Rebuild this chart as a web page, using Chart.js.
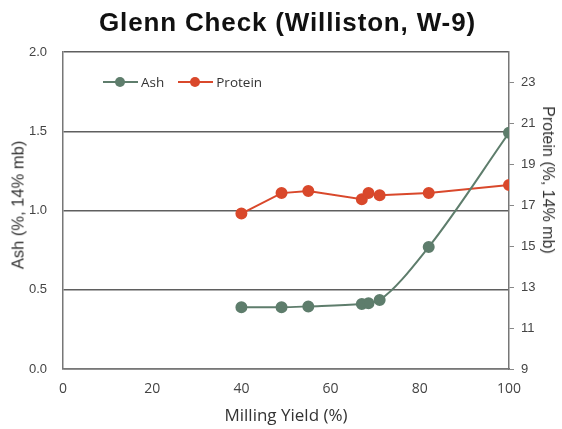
<!DOCTYPE html>
<html>
<head>
<meta charset="utf-8">
<script src="https://cdn.jsdelivr.net/npm/chart.js@4/dist/chart.umd.min.js"></script>
<style>
  html, body { margin: 0; padding: 0; background: #fff; }
  #wrap { position: relative; width: 562px; height: 429px; }
  #title { position: absolute; left: 99px; top: 9px; font: bold 26px/26px "Liberation Sans", Arial, sans-serif; letter-spacing: 0.85px; color: #111; white-space: nowrap; }
  .ax { position: absolute; white-space: nowrap; color: #333; }
  #ytitle { left: 18px; top: 205px; font: 16.5px/17px "Liberation Sans", Arial, sans-serif; transform: translate(-50%, -50%) rotate(-90deg); }
  #y2title { left: 548px; top: 180px; font: 16px/16px "Liberation Sans", Arial, sans-serif; transform: translate(-50%, -50%) rotate(90deg); }
  #xtitle { left: 286px; top: 406px; font: 17px/17px "Open Sans", sans-serif; transform: translateX(-50%); }
  #legend { position: absolute; left: 103px; top: 73px; font: 13.5px/18px "Open Sans", sans-serif; color: #333; display: flex; align-items: center; }
  .item { display: flex; align-items: center; }
  .mk { position: relative; width: 35px; height: 2px; margin-right: 3px; }
  .mk i { position: absolute; left: 12px; top: -4px; width: 10px; height: 10px; border-radius: 50%; }
</style>
</head>
<body>
<div id="wrap">
  <canvas id="c" width="562" height="429"></canvas>
  <div id="title"></div>
  <div id="ytitle" class="ax"></div>
  <div id="y2title" class="ax"></div>
  <div id="xtitle" class="ax"></div>
  <div id="legend"></div>
</div>
<script>
const titleText = "Glenn Check (Williston, W-9)";
const xTitle = "Milling Yield (%)";
const yTitle = "Ash (%, 14% mb)";
const y2Title = "Protein (%, 14% mb)";
const seriesNames = ["Ash", "Protein"];
const millingYield = [40, 49, 55, 67, 68.5, 71, 82, 100];
const ash = [0.39, 0.39, 0.395, 0.41, 0.415, 0.435, 0.77, 1.49];
const protein = [16.6, 17.6, 17.7, 17.3, 17.6, 17.5, 17.6, 18.0];
const xTicks = [0, 20, 40, 60, 80, 100];
const yLeftTicks = [0, 0.5, 1.0, 1.5, 2.0];
const yRightTicks = [9, 11, 13, 15, 17, 19, 21, 23];
const colors = ["#5e7d6c", "#d9482b"];

const fontFam = '"Liberation Sans", Arial, sans-serif';
const toPts = (xs, ys) => xs.map((x, i) => ({x: x, y: ys[i]}));

document.getElementById('title').textContent = titleText;
document.getElementById('xtitle').textContent = xTitle;
document.getElementById('ytitle').textContent = yTitle;
document.getElementById('y2title').textContent = y2Title;
const lg = document.getElementById('legend');
seriesNames.forEach((n, i) => {
  const it = document.createElement('div');
  it.className = 'item';
  it.style.marginRight = i === 0 ? '14px' : '0';
  it.innerHTML = '<span class="mk" style="background:' + colors[i] + '"><i style="background:' + colors[i] + '"></i></span><span>' + n + '</span>';
  lg.appendChild(it);
});

new Chart(document.getElementById('c'), {
  type: 'line',
  data: {
    datasets: [
      { label: seriesNames[0], data: toPts(millingYield, ash), yAxisID: 'y',
        borderColor: colors[0], backgroundColor: colors[0], borderWidth: 2,
        pointRadius: 5, pointHoverRadius: 5, cubicInterpolationMode: 'monotone' },
      { label: seriesNames[1], data: toPts(millingYield, protein), yAxisID: 'y2',
        borderColor: colors[1], backgroundColor: colors[1], borderWidth: 2,
        pointRadius: 5, pointHoverRadius: 5, tension: 0 }
    ]
  },
  options: {
    responsive: false,
    animation: false,
    layout: { padding: { top: 52 } },
    plugins: {
      legend: { display: false },
      tooltip: { enabled: false },
      title: { display: false }
    },
    scales: {
      x: {
        type: 'linear', min: 0, max: 100,
        afterBuildTicks: s => { s.ticks = xTicks.map(v => ({value: v})); },
        afterFit: s => { s.height = 60; },
        grid: { display: false, drawTicks: false },
        border: { color: '#777', width: 1.5 },
        ticks: { color: '#444', font: { family: '"Open Sans", sans-serif', size: 14 }, padding: 12 }
      },
      y: {
        position: 'left', min: 0, max: 2,
        afterBuildTicks: s => { s.ticks = yLeftTicks.map(v => ({value: v})); },
        afterFit: s => { s.width = 63; },
        grid: { color: '#5f5f5f', lineWidth: 1.4, drawTicks: false },
        border: { color: '#777', width: 1.5 },
        ticks: { color: '#444', font: { family: fontFam, size: 13 }, padding: 16, callback: v => v.toFixed(1) }
      },
      y2: {
        position: 'right', min: 9, max: 24.5,
        afterBuildTicks: s => { s.ticks = yRightTicks.map(v => ({value: v})); },
        afterFit: s => { s.width = 53; },
        grid: { drawOnChartArea: false, drawTicks: true, tickLength: 5, color: '#888' },
        border: { color: '#777', width: 1.5 },
        ticks: { color: '#444', font: { family: fontFam, size: 13 }, padding: 7 }
      }
    }
  }
});
</script>
</body>
</html>
